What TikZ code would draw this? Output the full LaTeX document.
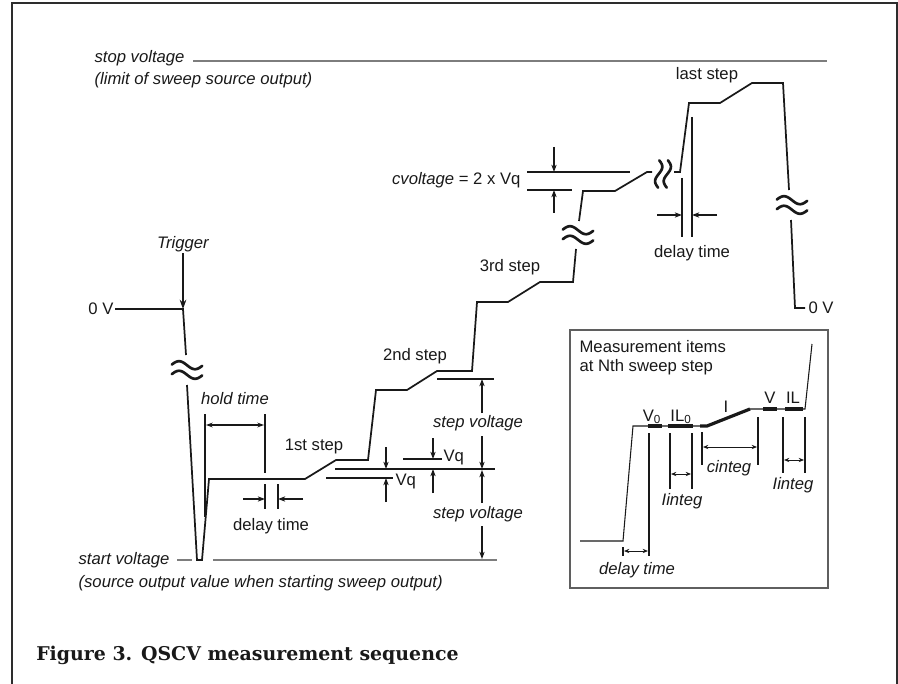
\documentclass[tikz,border=0pt]{standalone}
\usepackage{fontspec}
\setsansfont{Liberation Sans}
\newfontfamily\capfont{DejaVu Serif}
\usetikzlibrary{arrows.meta}
\definecolor{cInk}  {RGB}{ 25, 25, 25}
\definecolor{cFrame}{RGB}{ 45, 45, 45}
\definecolor{cLevel}{RGB}{125,125,125}
\definecolor{cBox}  {RGB}{ 95, 95, 95}

\begin{document}
\begin{tikzpicture}[
  x=0.75pt, y=-0.75pt,
  font=\fontsize{12.5}{14.25}\selectfont\sffamily,
  text=cInk,
  >=Stealth,
  %% outer frame (open at the bottom)
  frame/.style={draw=cFrame, line width=1.5pt},
  %% sweep waveform
  wave/.style={draw=cInk, line width=1.3pt, line join=miter},
  %% waveform inside the inset
  wavei/.style={draw=cInk, line width=0.8pt, line join=miter},
  %% measured slice of the inset waveform
  slice/.style={draw=cInk, line width=2.4pt},
  %% gray voltage limits
  level/.style={draw=cLevel, line width=1.1pt},
  %% thin marker lines
  guide/.style={draw=cInk, line width=0.9pt},
  %% single dimension arrow
  dimarr/.style={draw=cInk, line width=0.8pt,
    -{Stealth[length=5.5pt,width=4pt]}},
  %% double dimension arrow
  dimboth/.style={draw=cInk, line width=0.8pt,
    {Stealth[length=5pt,width=3.6pt]}-{Stealth[length=5pt,width=3.6pt]}},
  dimsmall/.style={draw=cInk, line width=0.7pt,
    {Stealth[length=4pt,width=3.2pt]}-{Stealth[length=4pt,width=3.2pt]}},
  trigarr/.style={draw=cInk, line width=0.9pt,
    -{Stealth[length=7pt,width=5pt]}},
  lbl/.style={inner sep=1pt},
  ilbl/.style={inner sep=1pt, font=\fontsize{12.5}{14.25}\selectfont\sffamily\itshape},
  %% break mark (two tildes)
  brk/.pic={
    \draw[cInk, line width=2pt, line cap=round]
      plot[domain=-0.95:0.95, samples=31, smooth] ({16*\x}, {-4.8+4*sin(180*\x)});
    \draw[cInk, line width=2pt, line cap=round]
      plot[domain=-0.95:0.95, samples=31, smooth] ({16*\x}, {4.8+4*sin(180*\x)});
  },
]

\useasboundingbox (0,0) rectangle (898,684);

%% ── Frame ───────────────────────────────────────────────────────────────────
\draw[frame] (12,684) -- (12,3) -- (897,3) -- (897,684);

%% ── Voltage limits ──────────────────────────────────────────────────────────
\node[ilbl, anchor=west] (stopLbl)  at (93,58) {stop voltage};
\node[ilbl, anchor=west] (stopNote) at (93,80) {(limit of sweep source output)};
\coordinate (stopA) at (193,61);
\coordinate (stopB) at (827,61);
\draw[level] (stopA) -- (stopB);

\node[ilbl, anchor=west] (startLbl)  at (77,560) {start voltage};
\node[ilbl, anchor=west] (startNote) at (77,583)
  {(source output value when starting sweep output)};
\coordinate (startA) at (177,560);
\coordinate (startB) at (192,560);
\coordinate (startC) at (213,560);
\coordinate (startD) at (497,560);
\draw[level] (startA) -- (startB);
\draw[level] (startC) -- (startD);

%% ── Sweep waveform ──────────────────────────────────────────────────────────
\coordinate (t0) at (183,309);
\node[lbl, anchor=east] (zeroL) at (115,309) {0 V};
\draw[wave]
  (zeroL.east) -- (t0) -- (186,355)
  (187,385) -- (197,560) -- (202,560) -- (209,479) -- (305,479)
  -- (336,460) -- (368,460) -- (376,390) -- (407,390) -- (437,371)
  -- (472,371) -- (477,302) -- (508,302) -- (540,282) -- (573,282)
  -- (576,249)
  (579,221) -- (583,191) -- (615,191) -- (647,172) -- (652,172)
  (674,172) -- (680,172) -- (689,103) -- (720,103) -- (752,83)
  -- (783,83) -- (789,190)
  (791,220) -- (795,308) -- (805,308);
\node[lbl, anchor=west] (zeroR) at (807,308) {0 V};

%% breaks
\pic at (187,370) {brk};
\pic at (578,235) {brk};
\pic at (792,205) {brk};
\pic[rotate=90, scale=0.9] at (663,174) {brk};

%% trigger
\node[ilbl] (trigLbl) at (183,244) {Trigger};
\draw[trigarr] (trigLbl.south) -- (t0);

%% step names
\node[lbl] (step1) at (314,446) {1st step};
\node[lbl] (step2) at (415,356) {2nd step};
\node[lbl] (step3) at (510,267) {3rd step};
\node[lbl] (stepN) at (707,75)  {last step};

%% ── Hold time / first delay time ────────────────────────────────────────────
\draw[guide] (205,414) -- (205,517);
\draw[guide] (265,414) -- (265,473);
\draw[dimboth] (206,425) -- (264,425);
\node[ilbl] (holdLbl) at (235,399) {hold time};

\draw[guide] (265,484) -- (265,509);
\draw[guide] (278,484) -- (278,509);
\draw[dimarr] (243,499) -- (265,499);
\draw[dimarr] (303,499) -- (278,499);
\node[lbl] (delayA) at (271,526) {delay time};

%% ── Vq and step voltage ─────────────────────────────────────────────────────
\draw[guide] (335,469) -- (495,469);
\draw[guide] (326,478) -- (393,478);
\draw[guide] (403,459) -- (442,459);
\draw[guide] (437,379) -- (494,379);
\node[lbl, anchor=west] (vqA) at (394,481) {Vq};
\node[lbl, anchor=west] (vqB) at (442,457) {Vq};
\draw[dimarr] (386,447) -- (386,469);
\draw[dimarr] (386,502) -- (386,478);
\draw[dimarr] (433,438) -- (433,459);
\draw[dimarr] (433,493) -- (433,469);

\node[ilbl] (stepvA) at (478,423) {step voltage};
\node[ilbl] (stepvB) at (478,514) {step voltage};
\draw[dimarr] (482,413) -- (482,379);
\draw[dimarr] (482,436) -- (482,469);
\draw[dimarr] (482,503) -- (482,470);
\draw[dimarr] (482,526) -- (482,559);

%% ── cvoltage ────────────────────────────────────────────────────────────────
\draw[guide] (527,172) -- (630,172);
\draw[guide] (527,190) -- (572,190);
\draw[dimarr] (554,147) -- (554,172);
\draw[dimarr] (554,213) -- (554,190);
\node[lbl, anchor=east] (cvLbl) at (522,180) {\textit{cvoltage} = 2 x Vq};

%% ── Last delay time ─────────────────────────────────────────────────────────
\draw[guide] (682,178) -- (682,237);
\draw[guide] (692,117) -- (692,237);
\draw[dimarr] (657,215) -- (682,215);
\draw[dimarr] (717,215) -- (692,215);
\node[lbl] (delayB) at (692,253) {delay time};

%% ── Inset: measurement items ────────────────────────────────────────────────
\draw[cBox, line width=1pt] (570,330) rectangle (828,588);
\node[lbl, anchor=west, align=left] (boxTitle) at (578,358)
  {Measurement items\\at Nth sweep step};

\draw[wavei] (580,541) -- (623,541) -- (633,426) -- (700,426)
  (750,409) -- (805,409) -- (812,344);
\draw[slice] (648,426) -- (662,426);
\draw[slice] (668,426) -- (693,426);
\draw[slice, line join=round] (700,426) -- (707,426) -- (750,409);
\draw[slice] (763,409) -- (777,409);
\draw[slice] (785,409) -- (803,409);

\node[lbl] (lV0)  at (652,417) {V\textsubscript{0}};
\node[lbl] (lIL0) at (681,417) {IL\textsubscript{0}};
\node[lbl] (lI)   at (726,407) {I};
\node[lbl] (lV)   at (770,398) {V};
\node[lbl] (lIL)  at (793,398) {IL};

%% delay time
\draw[guide] (649,433) -- (649,556);
\draw[guide] (623,547) -- (623,556);
\draw[dimsmall] (624,551) -- (648,551);
\node[ilbl] (delayC) at (637,570) {delay time};

%% first Iinteg
\draw[guide] (670,433) -- (670,489);
\draw[guide] (692,433) -- (692,489);
\draw[dimsmall] (671,474) -- (691,474);
\node[ilbl] (integA) at (682,501) {Iinteg};

%% cinteg
\draw[guide] (702,432) -- (702,465);
\draw[guide] (758,417) -- (758,465);
\draw[dimsmall] (703,447) -- (757,447);
\node[ilbl] (cinteg) at (729,468) {cinteg};

%% second Iinteg
\draw[guide] (783,417) -- (783,473);
\draw[guide] (805,417) -- (805,473);
\draw[dimsmall] (784,460) -- (804,460);
\node[ilbl] (integB) at (793,485) {Iinteg};

%% ── Caption ─────────────────────────────────────────────────────────────────
\node[anchor=west, inner sep=0pt,
  font=\fontsize{14.2}{17}\selectfont\capfont\bfseries] (caption)
  at (36,655) {Figure 3. QSCV measurement sequence};

\end{tikzpicture}
\end{document}
